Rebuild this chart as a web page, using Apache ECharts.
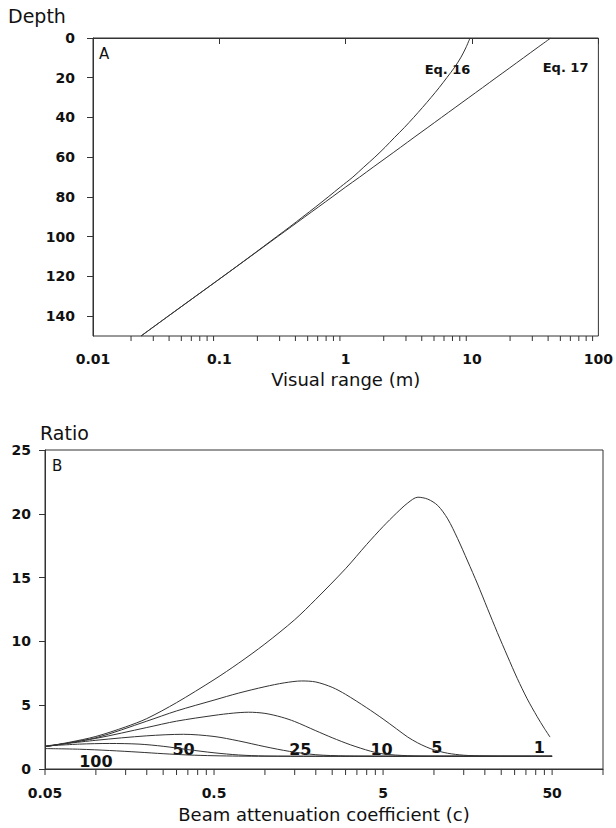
<!DOCTYPE html>
<html><head><meta charset="utf-8">
<script src="https://cdn.jsdelivr.net/npm/echarts@6/dist/echarts.min.js"></script>
<style>html,body{margin:0;padding:0;background:#fff}#c{width:616px;height:828px}</style>
</head><body><div id="c"></div>
<script>
// ---------- Panel A data ----------
const aDepth = [0,5,10,15,20,25,30,35,40,45,50,55,60,65,70,75,80,85,90,95,100,110,120,130,140,150];
const eq16Range = [9.64,8.92,8.12,7.23,6.31,5.49,4.73,4.05,3.45,2.92,2.44,2.05,1.70,1.39,1.14,0.908,0.727,0.579,0.458,0.362,0.284,0.175,0.107,0.0649,0.0394,0.024];
const eq17Range = [42,32.7,25.5,19.9,15.5,12.1,9.43,7.35,5.73,4.47,3.48,2.72,2.12,1.65,1.29,1.0,0.782,0.61,0.475,0.371,0.289,0.176,0.107,0.0649,0.0394,0.024];
const aMinorTicks = [0.02,0.03,0.04,0.05,0.06,0.07,0.08,0.09,0.2,0.3,0.4,0.5,0.6,0.7,0.8,0.9,2,3,4,5,6,7,8,9,20,30,40,50,60,70,80,90];
const aCurveLabels = ['Eq. 16','Eq. 17'];
const aLabelRange = [6.4,55];
const aLabelDepth = [16,15];

// ---------- Panel B data ----------
const bC1 = [0.05,0.07,0.1,0.15,0.2,0.3,0.5,0.7,1,1.5,2,3,4,5,6,7,8.03,9.19,10.53,12.06,13.81,15.81,18.1,20.7,23.7,27.2,31.1,35.6,40.8,44.9,48.6];
const bR1 = [1.75,2.1,2.55,3.3,3.95,5.2,7.0,8.3,9.8,11.7,13.3,15.7,17.6,19.0,20.05,20.85,21.3,21.15,20.65,19.6,18.05,16.3,14.5,12.6,10.7,8.85,7.1,5.5,4.1,3.2,2.5];
const bC5 = [0.05,0.1,0.2,0.3,0.5,0.7,1.0,1.3,1.65,2.0,2.5,3.0,4.0,5.0,6.0,7.0,8.0,9.0,10,12,15,20,30,50];
const bR5 = [1.75,2.45,3.75,4.55,5.4,5.95,6.45,6.75,6.9,6.82,6.4,5.85,4.8,3.92,3.15,2.5,2.05,1.73,1.5,1.24,1.08,1.02,1.0,1.0];
const bC10 = [0.05,0.1,0.2,0.3,0.5,0.65,0.8,1.0,1.25,1.5,2.0,2.5,3.2,4.2,5,7,10,20,30,50];
const bR10 = [1.75,2.4,3.25,3.75,4.2,4.38,4.45,4.36,4.07,3.72,3.0,2.45,1.9,1.4,1.18,1.04,1.0,1.0,1.0,1.0];
const bC25 = [0.05,0.1,0.2,0.33,0.5,0.7,1.0,1.4,2,3,5,10,20,50];
const bR25 = [1.8,2.25,2.6,2.72,2.55,2.2,1.75,1.38,1.12,1.02,1.0,1.0,1.0,1.0];
const bC50 = [0.05,0.08,0.12,0.18,0.25,0.35,0.5,0.7,1.0,2,5,20,50];
const bR50 = [1.8,1.95,2.0,1.95,1.78,1.52,1.27,1.1,1.02,1.0,1.0,1.0,1.0];
const bC100 = [0.05,0.08,0.12,0.18,0.25,0.35,0.5,0.7,1,2,5,20,50];
const bR100 = [1.6,1.55,1.45,1.32,1.2,1.1,1.04,1.01,1.0,1.0,1.0,1.0,1.0];
const bTickVals = [0.05,0.5,5,50];
const bTickText = ['0.05','0.5','5','50'];
const bMinorTicks = [0.05,0.1,0.15,0.2,0.25,0.3,0.35,0.4,0.45,0.5,1,1.5,2,2.5,3,3.5,4,4.5,5,10,15,20,25,30,35,40,45,50,100];
const bCurveLabels = ['1','5','10','25','50','100'];
const bLabelC = [42,10.4,4.9,1.62,0.33,0.1];
const bLabelR = [1.7,1.7,1.5,1.5,1.5,0.55];

const FONT = '"DejaVu Sans", Verdana, sans-serif';
const LINE = '#333';
const INK = '#111';
const zip = (xs, ys) => xs.map((x, i) => [x, ys[i]]);

function curve(xs, ys, gi) {
  return { type: 'line', xAxisIndex: gi, yAxisIndex: gi, data: zip(xs, ys), showSymbol: false,
    smooth: 0.3, lineStyle: { color: LINE, width: 1 }, silent: true, z: 3 };
}
function tickSeries(vals, gi, yv, len) {
  return { type: 'custom', xAxisIndex: gi, yAxisIndex: gi, clip: false, silent: true,
    data: vals.map(v => [v, yv]),
    renderItem: (p, api) => { const q = api.coord([api.value(0), api.value(1)]);
      return { type: 'line', shape: { x1: q[0], y1: q[1], x2: q[0], y2: q[1] + len },
        style: { stroke: LINE, lineWidth: 1 } }; } };
}
function textSeries(xs, ys, texts, gi, size, dy) {
  return { type: 'custom', xAxisIndex: gi, yAxisIndex: gi, clip: false, silent: true,
    data: xs.map((x, i) => [x, ys[i], i]),
    renderItem: (p, api) => { const q = api.coord([api.value(0), api.value(1)]);
      return { type: 'text', x: q[0], y: q[1] + (dy || 0), style: { text: texts[api.value(2)], align: 'center',
        verticalAlign: 'middle', fontFamily: FONT, fontWeight: 'bold', fontSize: size, fill: INK } }; } };
}
const tickLabel = { fontFamily: FONT, fontWeight: 'bold', fontSize: 14, color: INK };
const titleStyle = { fontFamily: FONT, fontSize: 18, color: INK };

const chart = echarts.init(document.getElementById('c'), null, { renderer: 'svg' });
chart.setOption({
  animation: false,
  backgroundColor: '#fff',
  grid: [
    { left: 93, right: 16, top: 38, bottom: 492, show: true, borderColor: LINE, borderWidth: 1 },
    { left: 45, right: 13, top: 450, bottom: 59, show: true, borderColor: LINE, borderWidth: 1 }
  ],
  xAxis: [
    { type: 'log', gridIndex: 0, min: 0.01, max: 100, logBase: 10,
      name: 'Visual range (m)', nameLocation: 'middle', nameGap: 34, nameTextStyle: titleStyle,
      axisLine: { lineStyle: { color: LINE } }, axisTick: { length: 6, lineStyle: { color: LINE } },
      splitLine: { show: false }, minorTick: { show: false },
      axisLabel: Object.assign({ margin: 16, formatter: v => String(+v.toPrecision(3)) }, tickLabel) },
    { type: 'log', gridIndex: 1, min: 0.05, max: 100, logBase: 10,
      name: 'Beam attenuation coefficient (c)', nameLocation: 'middle', nameGap: 36, nameTextStyle: titleStyle,
      axisLine: { lineStyle: { color: LINE } }, axisTick: { show: false },
      splitLine: { show: false }, axisLabel: { show: false } }
  ],
  yAxis: [
    { type: 'value', gridIndex: 0, min: 0, max: 150, interval: 20, inverse: true,
      axisLine: { show: true, lineStyle: { color: LINE } }, axisTick: { show: true, length: 6, lineStyle: { color: LINE } },
      splitLine: { show: false },
      axisLabel: Object.assign({ margin: 18, showMaxLabel: false }, tickLabel) },
    { type: 'value', gridIndex: 1, min: 0, max: 25, interval: 5,
      axisLine: { show: true, lineStyle: { color: LINE } }, axisTick: { show: true, length: 6, lineStyle: { color: LINE } },
      splitLine: { show: false },
      axisLabel: Object.assign({ margin: 14 }, tickLabel) }
  ],
  graphic: [
    { type: 'text', left: 8, top: 6, style: { text: 'Depth', fontFamily: FONT, fontSize: 19, fill: INK } },
    { type: 'text', left: 99, top: 46, style: { text: 'A', fontFamily: FONT, fontSize: 15, fill: INK } },
    { type: 'text', left: 40, top: 423, style: { text: 'Ratio', fontFamily: FONT, fontSize: 19, fill: INK } },
    { type: 'text', left: 52, top: 458, style: { text: 'B', fontFamily: FONT, fontSize: 15, fill: INK } }
  ],
  series: [
    curve(eq16Range, aDepth, 0),
    curve(eq17Range, aDepth, 0),
    tickSeries(aMinorTicks, 0, 150, 5),
    textSeries(aLabelRange, aLabelDepth, aCurveLabels, 0, 13),
    curve(bC1, bR1, 1), curve(bC5, bR5, 1), curve(bC10, bR10, 1),
    curve(bC25, bR25, 1), curve(bC50, bR50, 1), curve(bC100, bR100, 1),
    tickSeries(bMinorTicks, 1, 0, 6),
    textSeries(bTickVals, bTickVals.map(() => 0), bTickText, 1, 14, 24),
    textSeries(bLabelC, bLabelR, bCurveLabels, 1, 16)
  ]
});
</script></body></html>
